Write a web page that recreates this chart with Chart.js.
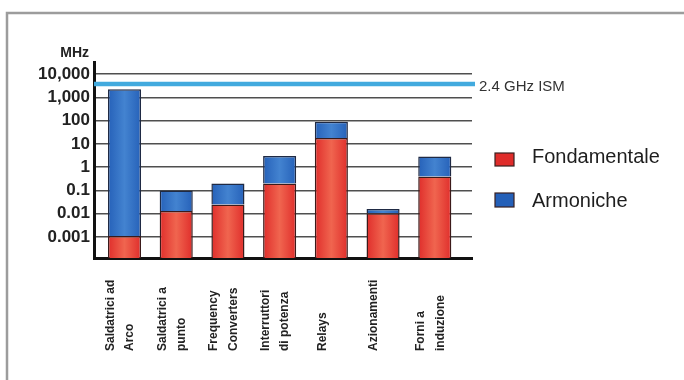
<!DOCTYPE html>
<html>
<head>
<meta charset="utf-8">
<script src="https://cdn.jsdelivr.net/npm/chart.js@4.4.0/dist/chart.umd.min.js"></script>
<style>
  html, body { margin: 0; padding: 0; background: #fff; }
</style>
</head>
<body>
<canvas id="emiChart" width="684" height="380"></canvas>
<script>
/* Data */
const categories = [
    ['Saldatrici ad', 'Arco'],
    ['Saldatrici a', 'punto'],
    ['Frequency', 'Converters'],
    ['Interruttori', 'di potenza'],
    ['Relays'],
    ['Azionamenti'],
    ['Forni a', 'induzione']
];
const fondamentale = [0.0011, 0.013, 0.025, 0.2, 18, 0.0105, 0.4];
const armonicheTop = [2200, 0.1, 0.2, 3, 90, 0.016, 2.9];
const seriesNames = ['Fondamentale', 'Armoniche'];
const yTickValues = [0.001, 0.01, 0.1, 1, 10, 100, 1000, 10000];
const yTickLabels = ['0.001', '0.01', '0.1', '1', '10', '100', '1,000', '10,000'];
const ismValue = 3700;
const ismLabel = '2.4 GHz ISM';
const unitLabel = 'MHz';

const RED = ['#df2c2a', '#f0654f'];   // edge, centre
const BLUE = ['#2560b8', '#4383d0'];
const FONT = '"Liberation Sans", Arial, sans-serif';

// soft cylinder look: lighter in the middle of each bar
function barFill(pair) {
    return ctx => {
        const xs = ctx.chart.scales.x;
        if (ctx.type !== 'data' || !xs) return pair[0];
        const cx = xs.getPixelForValue(ctx.dataIndex);
        if (!Number.isFinite(cx)) return pair[0];
        const g = ctx.chart.ctx.createLinearGradient(cx - 17, 0, cx + 17, 0);
        g.addColorStop(0, pair[0]);
        g.addColorStop(0.5, pair[1]);
        g.addColorStop(1, pair[0]);
        return g;
    };
}

/* Frame, ISM band, labels and legend */
const decor = {
    id: 'decor',
    beforeDraw(chart) {
        const c = chart.ctx;
        c.save();
        c.fillStyle = '#fff';
        c.fillRect(0, 0, chart.width, chart.height);
        c.strokeStyle = '#9c9c9c';
        c.lineWidth = 2.5;
        c.strokeRect(7, 13, chart.width + 40, chart.height + 40);
        c.restore();
    },
    beforeDatasetsDraw(chart) {
        const c = chart.ctx;
        const area = chart.chartArea;
        const y = chart.scales.y.getPixelForValue(ismValue);
        c.save();
        c.strokeStyle = '#42aade';
        c.lineWidth = 4.5;
        c.beginPath();
        c.moveTo(area.left, y);
        c.lineTo(area.right + 3, y);
        c.stroke();
        c.restore();
    },
    afterDraw(chart) {
        const c = chart.ctx;
        const xs = chart.scales.x;
        const ys = chart.scales.y;
        c.save();

        // unit
        c.fillStyle = '#222';
        c.font = 'bold 14px ' + FONT;
        c.textAlign = 'right';
        c.textBaseline = 'middle';
        c.fillText(unitLabel, 89, 53);

        // ISM label
        c.fillStyle = '#333';
        c.font = '15px ' + FONT;
        c.textAlign = 'left';
        c.fillText(ismLabel, 479, ys.getPixelForValue(ismValue) + 3);

        // category labels, rotated, starting at the bottom
        c.fillStyle = '#222';
        c.font = 'bold 12px ' + FONT;
        categories.forEach((lines, i) => {
            const x = xs.getPixelForValue(i);
            lines.forEach((txt, k) => {
                const lx = x - 9 - 5 * (lines.length - 1) + 19.5 * k;
                c.save();
                c.translate(lx, 351);
                c.rotate(-Math.PI / 2);
                c.textAlign = 'left';
                c.textBaseline = 'middle';
                c.fillText(txt, 0, 0);
                c.restore();
            });
        });

        // legend
        const colours = [RED[0], BLUE[0]];
        const boxes = [[153, 13], [193, 14]];
        const baselines = [163, 207];
        chart.data.datasets.forEach((ds, i) => {
            c.fillStyle = colours[i];
            c.fillRect(495, boxes[i][0], 19, boxes[i][1]);
            c.strokeStyle = '#3a2020';
            c.lineWidth = 1.2;
            c.strokeRect(495, boxes[i][0], 19, boxes[i][1]);
            c.fillStyle = '#1e1e1e';
            c.font = '20px ' + FONT;
            c.textAlign = 'left';
            c.textBaseline = 'alphabetic';
            c.fillText(ds.label, 532, baselines[i]);
        });
        c.restore();
    }
};

new Chart(document.getElementById('emiChart'), {
    type: 'bar',
    data: {
        datasets: [{
            label: seriesNames[0],
            data: fondamentale.map((v, i) => ({ x: i, y: v })),
            backgroundColor: barFill(RED),
            borderColor: '#3b1a1a',
            borderWidth: 1.5,
            grouped: false,
            order: 2
        }, {
            label: seriesNames[1],
            data: armonicheTop.map((v, i) => ({ x: i, y: [fondamentale[i], v] })),
            backgroundColor: barFill(BLUE),
            borderColor: '#1f2a44',
            borderWidth: 1.5,
            grouped: false,
            order: 1
        }]
    },
    options: {
        responsive: false,
        animation: false,
        categoryPercentage: 1,
        barPercentage: 0.64,
        layout: { padding: { top: 62, right: 212, left: 0, bottom: 0 } },
        plugins: {
            legend: { display: false },
            tooltip: { enabled: false }
        },
        scales: {
            x: {
                type: 'linear',
                offset: false,
                min: -0.59,
                max: 6.72,
                afterBuildTicks: s => { s.ticks = categories.map((_, i) => ({ value: i })); },
                afterFit: s => { s.height = 122; },
                grid: { display: false, drawTicks: false, offset: false },
                ticks: { display: false },
                border: { display: true, color: '#111', width: 3 }
            },
            y: {
                type: 'logarithmic',
                min: 1.25e-4,
                max: 3.3e4,
                afterBuildTicks: s => { s.ticks = yTickValues.map(v => ({ value: v })); },
                afterFit: s => { s.width = 94; },
                grid: { color: '#4f4f4f', lineWidth: 1.5, drawTicks: false },
                border: { display: true, color: '#111', width: 3 },
                ticks: {
                    padding: 4,
                    color: '#222',
                    font: { family: FONT, size: 17, weight: 'bold' },
                    callback: (v, i) => yTickLabels[i]
                }
            }
        }
    },
    plugins: [decor]
});
</script>
</body>
</html>
